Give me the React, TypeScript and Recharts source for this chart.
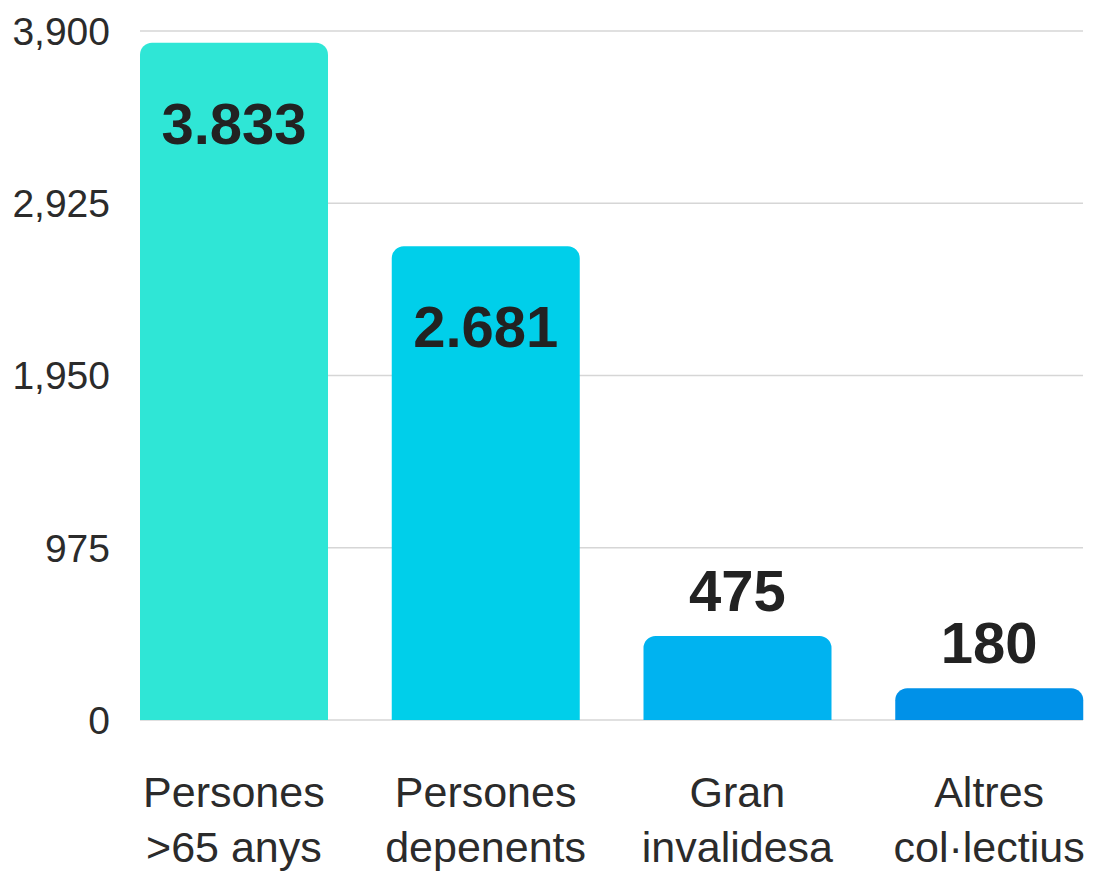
import React from 'react';
import { BarChart, Bar, XAxis, YAxis, CartesianGrid, Cell, LabelList } from 'recharts';

const categoryLines = [
  ['Persones', '>65 anys'],
  ['Persones', 'depenents'],
  ['Gran', 'invalidesa'],
  ['Altres', 'col·lectius'],
];
const values = [3833, 2681, 475, 180];
const yTicks = [0, 975, 1950, 2925, 3900];

const barColors = ['#2fe6d6', '#00cfea', '#00b3f0', '#0091e8'];
const FONT = '"Liberation Sans", Arial, sans-serif';

const data = categoryLines.map((lines, i) => ({
  name: lines.join('\n'),
  value: values[i],
}));

function CategoryTick(props: any) {
  const { x, y, payload } = props;
  const lines = String(payload.value).split('\n');
  return (
    <text x={x} y={y} textAnchor="middle" fill="#2b2b2b" fontSize={43} fontFamily={FONT}>
      {lines.map((line, i) => (
        <tspan key={i} x={x} y={y + 87 + i * 55}>
          {line}
        </tspan>
      ))}
    </text>
  );
}

function ValueLabel(props: any) {
  const { x, y, width, value } = props;
  const inside = value > 1000;
  const label = Number(value).toLocaleString('de-DE');
  return (
    <text
      x={x + width / 2}
      y={inside ? y + 101 : y - 25}
      textAnchor="middle"
      fill="#222"
      fontSize={58}
      fontWeight="bold"
      fontFamily={FONT}
    >
      {label}
    </text>
  );
}

export default function App() {
  return (
    <div style={{ position: 'absolute', left: 0, top: 0, width: 1096, height: 873, background: '#fff' }}>
      <BarChart
        width={1096}
        height={873}
        data={data}
        margin={{ top: 31, right: 13, left: 0, bottom: 0 }}
        barCategoryGap={32}
      >
        <CartesianGrid vertical={false} stroke="#d6d6d6" strokeWidth={1.5} />
        <XAxis
          dataKey="name"
          axisLine={false}
          tickLine={false}
          tickSize={0}
          tickMargin={0}
          height={153}
          interval={0}
          padding={{ left: -32, right: -32 }}
          tick={<CategoryTick />}
        />
        <YAxis
          width={140}
          domain={[0, 3900]}
          ticks={yTicks}
          axisLine={false}
          tickLine={false}
          tickSize={0}
          tickMargin={30}
          tickFormatter={(v: number) => v.toLocaleString('en-US')}
          tick={{ fill: '#2b2b2b', fontSize: 39, fontFamily: FONT }}
        />
        <Bar dataKey="value" radius={[12, 12, 0, 0]} isAnimationActive={false}>
          {data.map((d, i) => (
            <Cell key={d.name} fill={barColors[i]} />
          ))}
          <LabelList dataKey="value" content={<ValueLabel />} />
        </Bar>
      </BarChart>
    </div>
  );
}
